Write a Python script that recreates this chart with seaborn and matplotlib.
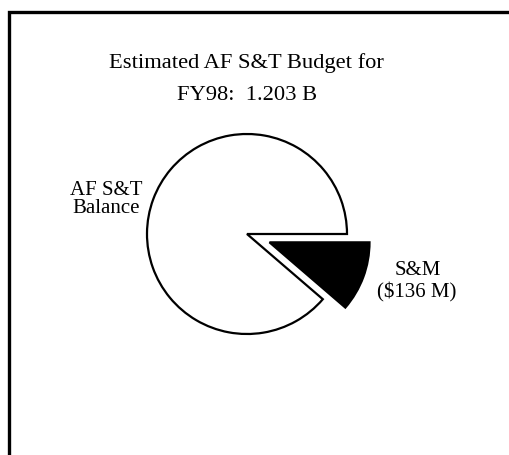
import matplotlib
matplotlib.use("Agg")
import matplotlib.pyplot as plt
import matplotlib.patches as mpatches
import seaborn as sns

categories = ["S&M", "AF S&T Balance"]
values = [136, 1203 - 136]   # $M
colors = ["black", "white"]
explode_frac = [0.24, 0.0]
title_lines = ["Estimated AF S&T Budget for", "FY98:  1.203 B"]

sns.set_theme(style="white")
plt.rcParams["font.family"] = ["Liberation Serif", "DejaVu Serif"]

fig = plt.figure(figsize=(5.10, 4.56), dpi=100)
ax = fig.add_axes([0, 0, 1, 1])

R = 100
frac = values[0] / sum(values)
ax.pie(values, colors=colors, explode=[e * R for e in explode_frac],
       startangle=-360 * frac, counterclock=True, center=(247, 221), radius=R,
       wedgeprops=dict(edgecolor="black", linewidth=1.6), frame=True)
ax.set_xlim(0, 510)
ax.set_ylim(0, 456)
ax.set_aspect("equal")
ax.axis("off")

# frame box
ax.add_patch(mpatches.Rectangle((9, -20), 700, 443 + 20, fill=False,
                                edgecolor="black", linewidth=2.4, clip_on=False))

ax.text(246, 388, title_lines[0], ha="center", va="baseline", fontsize=16.2, color="black")
ax.text(247, 356, title_lines[1], ha="center", va="baseline", fontsize=16.2, color="black")

ax.text(106, 261, "AF S&T", ha="center", va="baseline", fontsize=15, color="black")
ax.text(106, 243, "Balance", ha="center", va="baseline", fontsize=15, color="black")

ax.text(418, 181, "S&M", ha="center", va="baseline", fontsize=15, color="black")
ax.text(417, 159, "($136 M)", ha="center", va="baseline", fontsize=15, color="black")

fig.savefig("out.png", dpi=100, facecolor="white")
